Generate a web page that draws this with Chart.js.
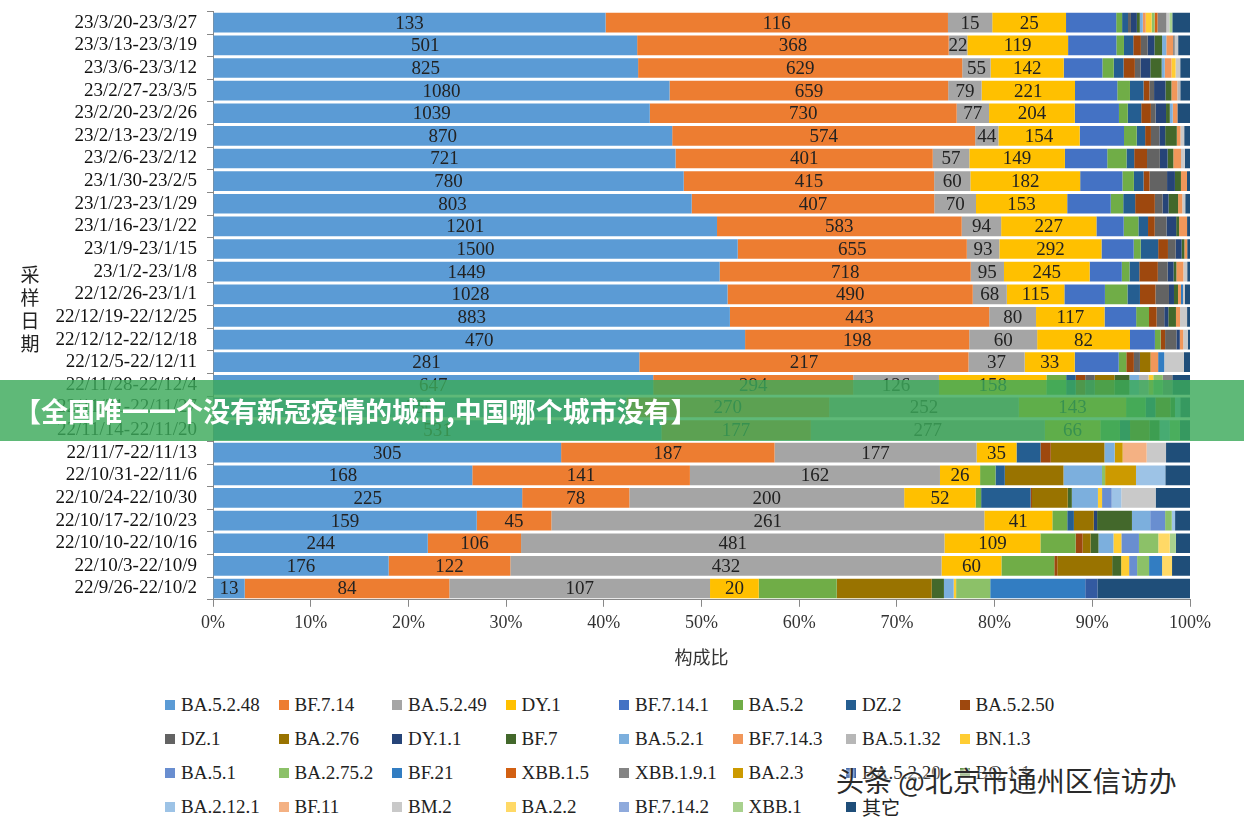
<!DOCTYPE html>
<html><head><meta charset="utf-8">
<script src="https://cdn.jsdelivr.net/npm/chart.js@4/dist/chart.umd.min.js"></script>
<style>
body{margin:0;background:#fff;width:1244px;height:822px;overflow:hidden;position:relative;font-family:"Liberation Serif","Noto Sans CJK SC",serif}
#wrap{position:absolute;left:0;top:-10px;width:1244px;height:682px}
#ytitle{position:absolute;left:19px;top:262px;width:22px;font-size:19px;line-height:23px;color:#222;font-family:"Noto Sans CJK SC";text-align:center}
#legend{position:absolute;left:165px;top:693px;display:grid;grid-template-columns:repeat(8,113.5px);row-gap:11px;font-size:19px;color:#222}
#legend div{display:flex;align-items:center;white-space:nowrap;height:23px}
#legend span.b{display:inline-block;width:10px;height:10px;margin-right:6px}
#banner{position:absolute;left:0;top:380px;width:1244px;height:61px;background:rgba(60,170,90,0.82);color:#fff;font:bold 27px "Noto Sans CJK SC";line-height:61px;padding-left:14px;box-sizing:border-box}
#wm{position:absolute;left:836px;top:760px;font:28px "Noto Sans CJK SC";color:#2a2a2a;text-shadow:0 0 3px #fff,0 0 3px #fff}
</style></head><body>
<div id="wrap"><canvas id="c" width="1244" height="682"></canvas></div>
<div id="ytitle">采<br>样<br>日<br>期</div>
<div id="legend"></div>
<div id="banner">【全国唯一一个没有新冠疫情的城市,中国哪个城市没有】</div>
<div id="wm">头条 @北京市通州区信访办</div>
<script>
const categories=["23/3/20-23/3/27","23/3/13-23/3/19","23/3/6-23/3/12","23/2/27-23/3/5","23/2/20-23/2/26","23/2/13-23/2/19","23/2/6-23/2/12","23/1/30-23/2/5","23/1/23-23/1/29","23/1/16-23/1/22","23/1/9-23/1/15","23/1/2-23/1/8","22/12/26-23/1/1","22/12/19-22/12/25","22/12/12-22/12/18","22/12/5-22/12/11","22/11/28-22/12/4","22/11/21-22/11/27","22/11/14-22/11/20","22/11/7-22/11/13","22/10/31-22/11/6","22/10/24-22/10/30","22/10/17-22/10/23","22/10/10-22/10/16","22/10/3-22/10/9","22/9/26-22/10/2"];
const xTicks=[0,10,20,30,40,50,60,70,80,90,100];
const BA_5_2_48=[133,501,825,1080,1039,870,721,780,803,1201,1500,1449,1028,883,470,281,647,550,531,305,168,225,159,244,176,13];
const BF_7_14=[116,368,629,659,730,574,401,415,407,583,655,718,490,443,198,217,294,270,177,187,141,78,45,106,122,84];
const BA_5_2_49=[15,22,55,79,77,44,57,60,70,94,93,95,68,80,60,37,126,252,277,177,162,200,261,481,432,107];
const DY_1=[25,119,142,221,204,154,149,182,153,227,292,245,115,117,82,33,158,143,66,35,26,52,41,109,60,20];
const BF_7_14_1=[17,57,75,100,105,84,66,70,73,65,92,92,81,54,22,29,0,0,0,0,0,0,0,0,0,0];
const BA_5_2=[2,9,22,30,21,24,30,19,21,35,20,22,45,22,5,5,29,26,23,0,10,4,9,40,53,32];
const DZ_2=[2,11,19,32,32,16,12,16,20,23,50,28,25,0,0,0,14,13,12,21,6,36,4,0,0,0];
const BA_5_2_50=[0,9,22,14,23,11,20,10,33,16,28,53,31,13,4,5,14,0,0,9,0,1,0,8,3,0];
const DZ_1=[1,8,11,11,11,16,20,29,13,28,22,28,27,13,10,4,14,0,0,0,0,0,0,0,0,0];
const BA_2_76=[0,0,0,0,0,0,0,0,0,0,0,0,0,0,0,7,29,20,23,47,38,26,12,9,55,39];
const DY_1_1=[2,8,19,27,25,11,12,13,10,23,17,17,10,7,3,0,0,0,0,0,0,0,2,0,0,0];
const BF_7=[1,9,22,14,9,22,9,10,16,7,8,8,8,13,0,0,22,6,12,0,0,3,21,9,9,5];
const BA_5_2_1=[1,5,6,0,7,0,0,0,0,0,0,0,0,0,0,0,14,7,12,9,25,19,11,17,0,4];
const BF_7_14_3=[1,8,13,14,11,7,12,10,7,19,8,20,6,7,3,5,0,0,0,0,0,0,0,0,0,0];
const BA_5_1_32=[0,0,0,7,0,0,0,0,0,0,0,0,0,0,0,0,14,0,0,0,0,0,0,0,0,0];
const BN_1_3=[2,0,8,0,0,0,0,0,0,0,0,0,0,0,0,0,7,0,0,0,0,3,0,9,8,1];
const BA_5_1=[0,0,0,0,0,0,0,0,0,0,0,0,0,0,0,0,0,0,0,0,0,7,9,20,8,0];
const BA_2_75_2=[1,0,0,0,0,0,0,0,0,0,0,0,0,0,0,0,14,0,12,0,2,0,4,22,12,14];
const BF_21=[0,0,0,0,0,0,0,0,0,0,0,0,4,0,0,4,0,0,0,0,0,0,0,0,13,39];
const XBB_1_5=[1,0,0,0,0,0,0,0,0,0,0,0,0,0,0,0,0,0,0,0,0,0,0,0,0,0];
const XBB_1_9_1=[3,2,0,0,0,0,0,0,0,0,0,0,0,0,0,0,14,0,0,0,0,0,0,0,0,0];
const BA_2_3=[0,0,0,0,0,0,0,0,0,0,0,0,0,0,0,0,0,0,0,7,20,0,0,0,0,0];
const BA_5_2_20=[0,0,0,0,0,0,0,0,0,0,0,0,0,0,0,0,0,0,0,0,0,0,0,0,0,5];
const BQ_1_1=[0,0,0,0,0,0,0,0,0,0,0,0,0,0,0,0,0,0,0,0,0,0,0,0,0,0];
const BA_2_12_1=[0,0,0,0,0,0,0,0,0,0,0,0,0,0,0,0,0,0,0,0,19,7,2,0,0,0];
const BF_11=[0,0,0,0,0,0,0,0,0,0,0,0,0,0,0,0,0,0,0,21,0,0,0,0,0,0];
const BM_2=[1,4,9,0,0,7,6,0,5,0,0,11,4,12,4,13,0,0,0,17,0,25,0,0,0,0];
const BA_2_2=[0,0,0,0,0,0,0,0,0,0,0,0,0,0,0,0,0,0,0,0,0,0,0,13,10,0];
const BF_7_14_2=[0,0,0,0,0,0,0,0,0,0,0,0,0,0,0,0,0,0,0,0,0,0,0,0,0,0];
const XBB_1=[1,0,0,0,0,0,0,0,0,0,0,0,0,0,0,0,0,0,0,0,0,0,0,7,0,0];
const OTHER=[6,14,19,23,30,11,8,5,8,7,8,8,10,5,2,4,26,13,12,21,16,25,9,16,18,38];

const seriesNames=["BA.5.2.48","BF.7.14","BA.5.2.49","DY.1","BF.7.14.1","BA.5.2","DZ.2","BA.5.2.50","DZ.1","BA.2.76","DY.1.1","BF.7","BA.5.2.1","BF.7.14.3","BA.5.1.32","BN.1.3","BA.5.1","BA.2.75.2","BF.21","XBB.1.5","XBB.1.9.1","BA.2.3","BA.5.2.20","BQ.1.1","BA.2.12.1","BF.11","BM.2","BA.2.2","BF.7.14.2","XBB.1","其它"];
const seriesValues=[BA_5_2_48,BF_7_14,BA_5_2_49,DY_1,BF_7_14_1,BA_5_2,DZ_2,BA_5_2_50,DZ_1,BA_2_76,DY_1_1,BF_7,BA_5_2_1,BF_7_14_3,BA_5_1_32,BN_1_3,BA_5_1,BA_2_75_2,BF_21,XBB_1_5,XBB_1_9_1,BA_2_3,BA_5_2_20,BQ_1_1,BA_2_12_1,BF_11,BM_2,BA_2_2,BF_7_14_2,XBB_1,OTHER];
const colors=["#5B9BD5","#ED7D31","#A5A5A5","#FFC000","#4472C4","#70AD47","#255E91","#9E480E","#636363","#997300","#264478","#43682B","#7CAFDD","#F1975A","#B7B7B7","#FFCD33","#698ED0","#8CC168","#327DC2","#D26012","#848484","#CC9A00","#335AA1","#5A8A39","#9DC3E6","#F4B183","#C9C9C9","#FFD966","#8FAADC","#A9D18E","#1F4E79"];
const labeled=4;

const totals=categories.map((_,i)=>seriesValues.reduce((s,a)=>s+a[i],0));
const datasets=seriesNames.map((n,k)=>({label:n,raw:seriesValues[k],data:seriesValues[k].map((v,i)=>v/totals[i]*100),backgroundColor:colors[k],borderWidth:0,barPercentage:0.87,categoryPercentage:1}));

const labelPlugin={id:'lbl',afterDatasetsDraw(ch){const c=ch.ctx;c.save();c.font='19px "Liberation Serif"';c.fillStyle='#222';c.textAlign='center';c.textBaseline='middle';
 for(let k=0;k<labeled;k++){const m=ch.getDatasetMeta(k);m.data.forEach((b,i)=>{const x=(b.x+b.base)/2;c.fillText(String(ch.data.datasets[k].raw[i]),x,b.y+1);});}c.restore();}};

const ch=new Chart(document.getElementById('c'),{type:'bar',data:{labels:categories,datasets},plugins:[labelPlugin],
options:{indexAxis:'y',responsive:false,animation:false,events:[],layout:{padding:{top:0,right:54,left:0,bottom:0}},
plugins:{legend:{display:false},tooltip:{enabled:false}},
scales:{x:{stacked:true,min:0,max:100,afterBuildTicks(a){a.ticks=xTicks.map(v=>({value:v}));},
 ticks:{callback:v=>v+'%',font:{family:'Liberation Serif',size:18},color:'#333',padding:6},
 grid:{display:true,drawOnChartArea:false,drawTicks:true,tickLength:7,color:'#888'},border:{color:'#888'},
 title:{display:true,text:'构成比',font:{family:'Noto Sans CJK SC',size:18},color:'#333',padding:{top:6}}},
 y:{stacked:true,afterFit(a){a.width=213;},ticks:{autoSkip:false,font:{family:'Liberation Serif',size:19},color:'#111',padding:10},
 grid:{display:true,drawOnChartArea:false,tickLength:6,color:'#888'},border:{color:'#888'}}}}});

const lg=document.getElementById('legend');
seriesNames.forEach((n,k)=>{const d=document.createElement('div');d.innerHTML='<span class="b" style="background:'+colors[k]+'"></span>'+n;lg.appendChild(d);});
</script></body></html>
